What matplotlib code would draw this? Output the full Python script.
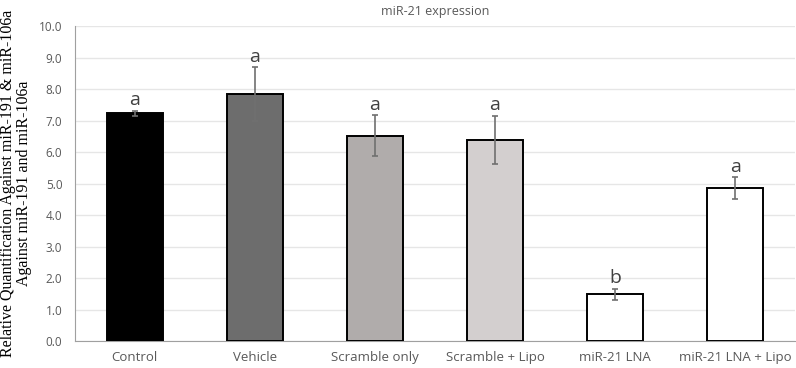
import matplotlib
matplotlib.use("Agg")
import matplotlib.pyplot as plt

# data
groups = ["Control", "Vehicle", "Scramble only", "Scramble + Lipo", "miR-21 LNA", "miR-21 LNA + Lipo"]
means = [7.24, 7.84, 6.52, 6.38, 1.49, 4.86]
errors = [0.08, 0.86, 0.65, 0.77, 0.18, 0.34]
letters = ["a", "a", "a", "a", "b", "a"]
colors = ["#000000", "#6d6d6d", "#b0acab", "#d3cfcf", "#ffffff", "#ffffff"]

plt.rcParams['font.family'] = ['Open Sans', 'DejaVu Sans']

fig = plt.figure(figsize=(7.96, 3.68), dpi=100)
ax = fig.add_axes([0.094, 0.073, 0.905, 0.856])

x = range(len(groups))
ax.bar(x, means, width=0.47, color=colors, edgecolor="black", linewidth=1.4, zorder=3)
ax.errorbar(x, means, yerr=errors, fmt="none", ecolor="#707070", elinewidth=1.2,
            capsize=2, capthick=1.2, zorder=4)

for i in x:
    ax.text(i, means[i] + errors[i] + 0.05, letters[i], ha="center", va="bottom",
            fontsize=14, color="#404040")

ax.set_xlim(-0.5, len(groups) - 0.5)
ax.set_ylim(0, 10)
ax.set_yticks([i for i in range(11)])
ax.set_yticklabels(["%.1f" % i for i in range(11)])
ax.set_xticks(list(x))
ax.set_xticklabels(groups)
ax.tick_params(axis="x", length=0, labelsize=9.5, labelcolor="#595959", pad=7)
ax.tick_params(axis="y", length=0, labelsize=8.5, labelcolor="#595959", pad=9)
ax.yaxis.grid(True, color="#e6e6e6", linewidth=1, zorder=0)
ax.set_axisbelow(True)

for s in ["top", "right"]:
    ax.spines[s].set_visible(False)
ax.spines["left"].set_color("#a0a0a0")
ax.spines["bottom"].set_color("#a0a0a0")

ax.set_title("miR-21 expression", fontsize=9, color="#595959", pad=8)
ax.set_ylabel("Relative Quantification Against miR-191 & miR-106a\nAgainst miR-191 and miR-106a",
              fontsize=11.5, family=["Liberation Serif", "DejaVu Serif"], labelpad=5, linespacing=1.0)

fig.savefig("out.png", dpi=100)
